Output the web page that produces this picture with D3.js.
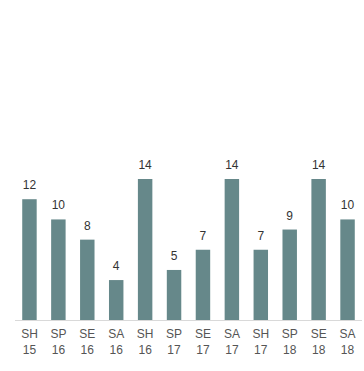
<!DOCTYPE html>
<html lang="en">
<head>
<meta charset="UTF-8">
<script src="https://cdn.jsdelivr.net/npm/d3@7"></script>
<title>Bars</title>
<style>
    body { margin: 0; background: #fff; }
    svg text { font-family: Arial, "Liberation Sans", sans-serif; font-size: 12px; }
    .axis path, .axis line { display: none; }
</style>
</head>
<body>
<svg id="chart" width="364" height="371"></svg>
<script>
    var seasons = ["SH", "SP", "SE", "SA", "SH", "SP", "SE", "SA", "SH", "SP", "SE", "SA"],
        years   = ["15", "16", "16", "16", "16", "17", "17", "17", "17", "18", "18", "18"],
        values  = [12, 10, 8, 4, 14, 5, 7, 14, 7, 9, 14, 10];

    var svg = d3.select("svg#chart"),
        baseline = 320.5,
        keys = d3.range(values.length);

    var x = d3.scaleBand()
        .domain(keys)
        .range([15, 362])
        .paddingInner(0.5)
        .paddingOuter(0.25);

    var y = d3.scaleLinear()
        .domain([0, 14])
        .range([baseline, baseline - 141.5]);

    svg.selectAll("rect.bar")
        .data(values)
        .enter().append("rect")
        .attr("class", "bar")
        .attr("x", function(d, i) { return x(i); })
        .attr("width", x.bandwidth())
        .attr("y", function(d) { return y(d); })
        .attr("height", function(d) { return y(0) - y(d); })
        .attr("fill", "#66888a");

    svg.selectAll("text.val")
        .data(values)
        .enter().append("text")
        .attr("class", "val")
        .attr("x", function(d, i) { return x(i) + x.bandwidth() / 2; })
        .attr("y", function(d) { return y(d) - 10; })
        .attr("text-anchor", "middle")
        .attr("fill", "#333")
        .text(function(d) { return d; });

    // baseline
    svg.append("line")
        .attr("x1", 15).attr("x2", 362)
        .attr("y1", baseline).attr("y2", baseline)
        .attr("stroke", "#d9d9d9");

    var axis = svg.append("g")
        .attr("class", "axis")
        .attr("transform", "translate(0," + baseline + ")")
        .call(d3.axisBottom(x).tickSize(0).tickFormat(""));

    axis.selectAll(".tick").each(function(i) {
        var t = d3.select(this).append("text")
            .attr("text-anchor", "middle")
            .attr("fill", "#555");
        t.append("tspan").attr("x", 0).attr("y", 17).text(seasons[i]);
        t.append("tspan").attr("x", 0).attr("y", 33.5).text(years[i]);
    });
</script>
</body>
</html>
